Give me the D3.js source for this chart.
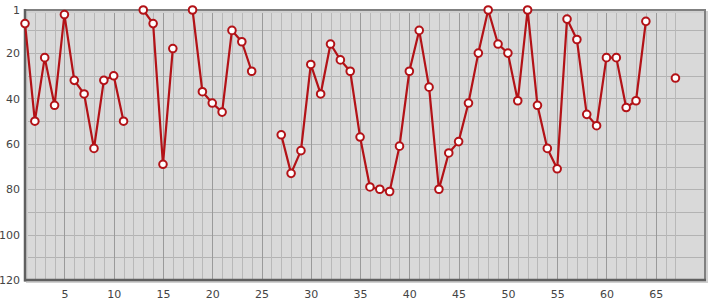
<!DOCTYPE html>
<html>
<head>
<meta charset="utf-8">
<script src="https://cdn.jsdelivr.net/npm/d3@7/dist/d3.min.js"></script>
<style>
  html, body { margin: 0; padding: 0; background: #fff; }
  svg { display: block; }
  text { font-family: "DejaVu Sans", Verdana, sans-serif; font-size: 11px; fill: #444; }
</style>
</head>
<body>
<svg id="chart" width="715" height="300"></svg>
<script>
// Data
const xValues = [1,2,3,4,5,6,7,8,9,10,11,12,13,14,15,16,17,18,19,20,21,22,23,24,25,26,27,28,29,30,31,32,33,34,35,36,37,38,39,40,41,42,43,44,45,46,47,48,49,50,51,52,53,54,55,56,57,58,59,60,61,62,63,64,65,66,67];
const ranks = [7,50,22,43,3,32,38,62,32,30,50,null,1,7,69,18,null,1,37,42,46,10,15,28,null,null,56,73,63,25,38,16,23,28,57,79,80,81,61,28,10,35,80,64,59,42,20,1,16,20,41,1,43,62,71,5,14,47,52,22,22,44,41,6,null,null,31];
const xTicks = [5,10,15,20,25,30,35,40,45,50,55,60,65];
const yTicks = [1,20,40,60,80,100,120];
const yGrid = [10,20,30,40,50,60,70,80,90,100,110];

const data = xValues.map((x, i) => ({x: x, v: ranks[i]}));

const L = 25, T = 10, R = 705, B = 280;
const svg = d3.select("#chart");

const x = d3.scaleLinear().domain([1, 70]).range([L, R]);
const y = d3.scaleLinear().domain([1, 120]).range([T, B]);

// background
svg.append("rect").attr("x", L).attr("y", T).attr("width", R - L).attr("height", B - T)
  .attr("fill", "#d9d9d9");

// horizontal grid
svg.append("g").selectAll("line").data(yGrid).join("line")
  .attr("x1", L).attr("x2", R)
  .attr("y1", d => Math.round(y(d)) + 0.5).attr("y2", d => Math.round(y(d)) + 0.5)
  .attr("stroke", "#b3b3b3").attr("stroke-width", 1);

// vertical minor grid
svg.append("g").selectAll("line").data(xValues.filter(d => d % 5 !== 0 && d > 1)).join("line")
  .attr("x1", d => Math.round(x(d)) + 0.5).attr("x2", d => Math.round(x(d)) + 0.5)
  .attr("y1", T).attr("y2", B)
  .attr("stroke", "#b8b8b8").attr("stroke-width", 1);

// vertical major grid
svg.append("g").selectAll("line").data(xTicks).join("line")
  .attr("x1", d => Math.round(x(d)) + 0.5).attr("x2", d => Math.round(x(d)) + 0.5)
  .attr("y1", T).attr("y2", B)
  .attr("stroke", "#9a9a9a").attr("stroke-width", 1);

// border with shadow
svg.append("rect").attr("x", L + 2).attr("y", T + 2).attr("width", R - L).attr("height", B - T)
  .attr("fill", "none").attr("stroke", "#d0d0d0").attr("stroke-width", 2);
svg.append("rect").attr("x", L).attr("y", T).attr("width", R - L).attr("height", B - T)
  .attr("fill", "none").attr("stroke", "#808080").attr("stroke-width", 2);
svg.append("line").attr("x1", L).attr("x2", L).attr("y1", T - 1).attr("y2", B + 1.5)
  .attr("stroke", "#606060").attr("stroke-width", 2.5);
svg.append("line").attr("x1", L - 1).attr("x2", R + 1).attr("y1", B).attr("y2", B)
  .attr("stroke", "#606060").attr("stroke-width", 2.5);

// axes labels
const xAxis = d3.axisBottom(x).tickValues(xTicks).tickSize(0).tickPadding(10);
const gx = svg.append("g").attr("transform", `translate(0,${B})`).call(xAxis);
gx.select(".domain").remove();
gx.selectAll("text").attr("fill", "#444").style("font-family", '"DejaVu Sans", Verdana, sans-serif').style("font-size", "11px");

const yAxis = d3.axisLeft(y).tickValues(yTicks).tickSize(0).tickPadding(5);
const gy = svg.append("g").attr("transform", `translate(${L},0)`).call(yAxis);
gy.select(".domain").remove();
gy.selectAll("text").attr("fill", "#444").style("font-family", '"DejaVu Sans", Verdana, sans-serif').style("font-size", "11px");

// line
const line = d3.line().defined(d => d.v !== null).x(d => x(d.x)).y(d => y(d.v));
svg.append("path").datum(data).attr("d", line)
  .attr("fill", "none").attr("stroke", "#b31217").attr("stroke-width", 2.2)
  .attr("stroke-linejoin", "round");

// markers
svg.append("g").selectAll("circle").data(data.filter(d => d.v !== null)).join("circle")
  .attr("cx", d => x(d.x)).attr("cy", d => y(d.v)).attr("r", 3.8)
  .attr("fill", "#fff").attr("stroke", "#b31217").attr("stroke-width", 2);
</script>
</body>
</html>
